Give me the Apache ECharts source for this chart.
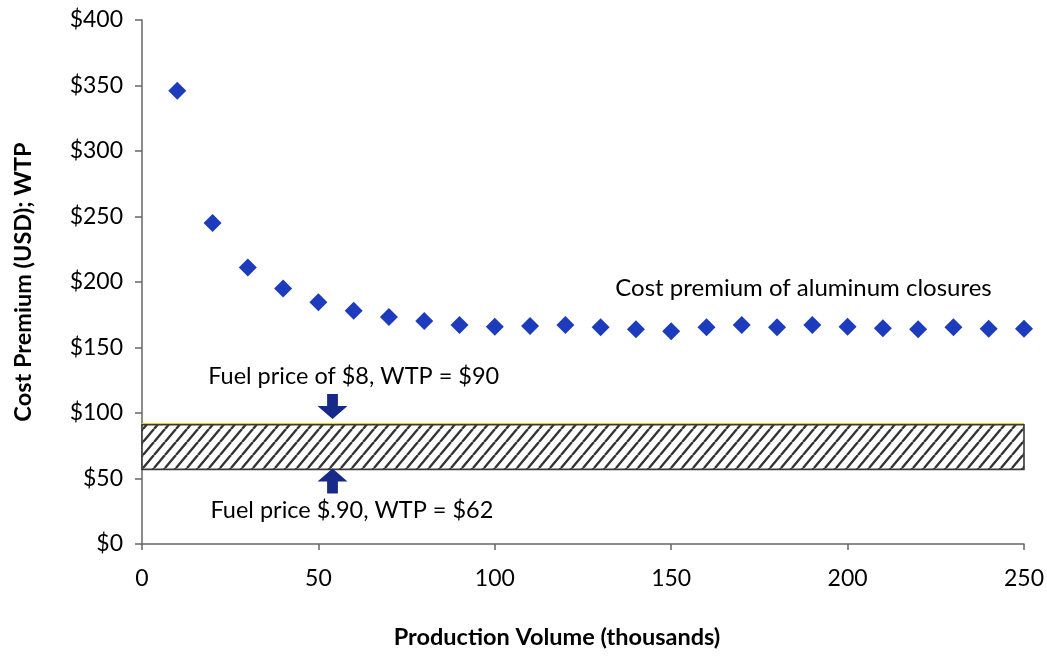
<!DOCTYPE html>
<html>
<head>
<meta charset="utf-8">
<script src="https://cdn.jsdelivr.net/npm/echarts@6/dist/echarts.min.js"></script>
<style>
html,body{margin:0;padding:0;background:#fff;}
#chart{width:1047px;height:656px;}
</style>
</head>
<body>
<div id="chart"></div>
<script>
// ---- data ----
const productionVolume = [10,20,30,40,50,60,70,80,90,100,110,120,130,140,150,160,170,180,190,200,210,220,230,240,250];
const costPremium = [346,245,211,195,184.5,178,173.3,170.2,167.2,165.9,166.4,167.2,165.4,163.9,162.4,165.4,167.2,165.4,167.2,165.9,164.6,163.9,165.4,164.4,164.4];
const wtpBand = [57, 91];           // lower / upper WTP band
const bandX = [0, 250];
const arrowDown = [54, 105];
const arrowUp = [54, 48];
const annotationTexts = ['Cost premium of aluminum closures', 'Fuel price of $8, WTP = $90', 'Fuel price $.90, WTP = $62'];
const annotationX = [187.5, 60, 59.5];
const annotationY = [195.5, 128, 26];
const annotationSize = [24, 23.5, 23.5];
const xTicks = [0, 250, 50];   // min, max, interval
const yTicks = [0, 400, 50];

// ---- styles ----
const FONT = 'Lato';
function hatchPattern(){
  const w = 11, h = 13;
  const c = document.createElement('canvas');
  c.width = w; c.height = h;
  const g = c.getContext('2d');
  g.fillStyle = '#ffffff';
  g.fillRect(0,0,w,h);
  g.strokeStyle = '#333333';
  g.lineWidth = 2.4;
  g.beginPath();
  g.moveTo(0,h); g.lineTo(w,0);
  g.moveTo(-w,h); g.lineTo(0,0);
  g.moveTo(w,h); g.lineTo(2*w,0);
  g.stroke();
  return c;
}
const arrowPath = 'path://M32,0 L68,0 L68,48 L100,48 L50,100 L0,48 L32,48 Z';

const chart = echarts.init(document.getElementById('chart'));
chart.setOption({
  backgroundColor: '#ffffff',
  animation: false,
  grid: {left: 142, right: 21, top: 20, bottom: 112, containLabel: false},
  xAxis: {
    type: 'value', min: xTicks[0], max: xTicks[1], interval: xTicks[2],
    name: 'Production Volume (thousands)', nameLocation: 'middle', nameGap: 81,
    nameTextStyle: {fontFamily: FONT, fontWeight: 'bold', fontSize: 23.5, color: '#000', padding: [0, 52, 0, 0]},
    axisLine: {lineStyle: {color: '#666', width: 1.5}},
    axisTick: {show: true, inside: false, length: 6, lineStyle: {color: '#666', width: 1.5}},
    axisLabel: {fontFamily: FONT, fontSize: 23, color: '#000', margin: 23},
    splitLine: {show: false}
  },
  yAxis: {
    type: 'value', min: yTicks[0], max: yTicks[1], interval: yTicks[2],
    name: 'Cost Premium (USD); WTP', nameLocation: 'middle', nameGap: 107,
    nameTextStyle: {fontFamily: FONT, fontWeight: 'bold', fontSize: 23.5, color: '#000'},
    axisLine: {show: true, lineStyle: {color: '#666', width: 1.5}},
    axisTick: {show: true, inside: false, length: 7, lineStyle: {color: '#666', width: 1.5}},
    axisLabel: {fontFamily: FONT, fontSize: 23, color: '#000', margin: 19, formatter: v => '$' + v},
    splitLine: {show: false}
  },
  series: [
    {
      type: 'scatter', name: 'band', data: [], silent: true,
      markArea: {
        silent: true,
        itemStyle: {color: {image: hatchPattern(), repeat: 'repeat'}, borderColor: '#3a3a3a', borderWidth: 1.6, opacity: 1},
        data: [[{xAxis: bandX[0], yAxis: wtpBand[0]}, {xAxis: bandX[1], yAxis: wtpBand[1]}]]
      },
      markLine: {
        silent: true, symbol: 'none', label: {show: false},
        lineStyle: {color: '#d8d800', width: 1, type: 'solid', opacity: 1},
        data: [[{coord: [bandX[0], wtpBand[1] + 0.9]}, {coord: [bandX[1], wtpBand[1] + 0.9]}]]
      },
      z: 1
    },
    {
      type: 'scatter', name: 'Cost premium',
      data: productionVolume.map((x, i) => [x, costPremium[i]]),
      symbol: 'diamond', symbolSize: [18, 18],
      itemStyle: {color: '#1c3cbd', opacity: 1},
      z: 5
    },
    {
      type: 'scatter', name: 'arrows', silent: true,
      data: [
        {value: arrowDown, symbolRotate: 0},
        {value: arrowUp, symbolRotate: 180}
      ],
      symbol: arrowPath, symbolSize: [30, 25],
      itemStyle: {color: '#172a8a', opacity: 1},
      z: 6
    },
    {
      type: 'scatter', name: 'annotations', silent: true,
      data: annotationTexts.map((t, i) => ({name: t, value: [annotationX[i], annotationY[i]],
        label: {fontSize: annotationSize[i]}})),
      symbolSize: 0,
      itemStyle: {opacity: 1},
      label: {show: true, position: 'inside', formatter: p => p.name,
        fontFamily: FONT, fontSize: 23.5, color: '#000'},
      z: 7
    }
  ]
});
</script>
</body>
</html>
